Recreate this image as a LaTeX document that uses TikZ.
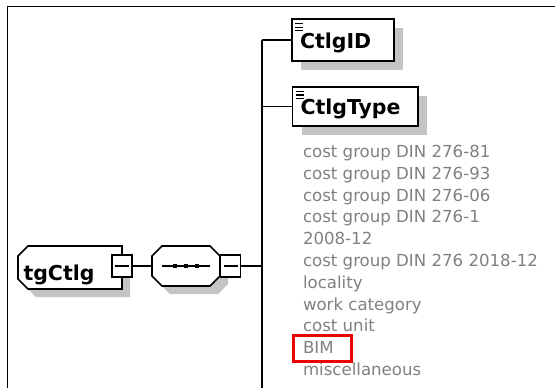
\documentclass[tikz,border=0pt]{standalone}
\usepackage{fontspec}
\setmainfont{DejaVu Sans}
\definecolor{enumgray}{RGB}{128,128,128}
\definecolor{shadowgray}{RGB}{196,196,196}
\definecolor{bimred}{RGB}{235,0,0}
\newcommand\mytgpath{([xshift=10pt]tg.north west) -- (tg.north east) -- (tg.south east) -- ([xshift=10pt]tg.south west) -- ([yshift=10pt]tg.south west) -- ([yshift=-10pt]tg.north west) -- cycle}
\newcommand\myseqpath{([xshift=10pt]seq.north west) -- ([xshift=-10pt]seq.north east) -- ([yshift=-10pt]seq.north east) -- ([yshift=10pt]seq.south east) -- ([xshift=-10pt]seq.south east) -- ([xshift=10pt]seq.south west) -- ([yshift=10pt]seq.south west) -- ([yshift=-10pt]seq.north west) -- cycle}
\begin{document}
\begin{tikzpicture}[x=1pt,y=-1pt,
  every node/.style={inner sep=0pt, outer sep=0pt},
  boxline/.style={draw=black, line width=1.6pt, fill=white},
  shadowfill/.style={fill=shadowgray, draw=none},
  placeholder/.style={rectangle, draw=none},
  minusbox/.style={boxline, rectangle, minimum width=20pt, minimum height=22pt,
    path picture={\draw[black, line width=1.2pt] ([xshift=3pt]path picture bounding box.west) -- ([xshift=-3pt]path picture bounding box.east);}},
  elembox/.style={boxline, rectangle,
    path picture={\foreach \dy in {4.5,8,11.5}{\draw[black, line width=1.2pt] ([xshift=3pt,yshift=-\dy pt]path picture bounding box.north west) -- ++(8pt,0);}}},
  eltext/.style={font=\bfseries\fontsize{20.5}{23}\selectfont, text=black},
  enumtext/.style={font=\fontsize{16.6}{20}\selectfont, text=enumgray, anchor=base west},
  conn/.style={draw=black, line width=1.4pt},
  frameline/.style={draw=black, line width=1.8pt}
]
\useasboundingbox (0,0) rectangle (555,388);
% frame
\coordinate (fr1) at (7.5,388);
\coordinate (fr2) at (7.5,6.5);
\coordinate (fr3) at (555,6.5);
\draw[frameline] (fr1) -- (fr2) -- (fr3);

% trunk
\coordinate (trunktop) at (262,40);
\coordinate (trunkbot) at (262,388);

% element boxes (shadows first)
\node[placeholder, minimum width=102pt, minimum height=41.5pt] (idshadow) at (352,49) {};
\fill[shadowfill] (idshadow.north west) rectangle (idshadow.south east);
\node[placeholder, minimum width=125.5pt, minimum height=39pt] (typeshadow) at (364.25,115.5) {};
\fill[shadowfill] (typeshadow.north west) rectangle (typeshadow.south east);
\node[elembox, minimum width=102pt, minimum height=41.5pt] (ctlgid) at (343,40) {};
\node[eltext, anchor=base west] (idtext) at (300,48) {CtlgID};
\node[elembox, minimum width=125.5pt, minimum height=39pt] (ctlgtype) at (355.25,106.5) {};
\node[eltext, anchor=base west] (typetext) at (300.5,114) {CtlgType};

% tgCtlg and sequence
\node[placeholder, minimum width=104pt, minimum height=43pt] (tg) at (70,267.5) {};
\node[placeholder, minimum width=68pt, minimum height=40pt] (seq) at (186,266) {};
\fill[shadowfill, transform canvas={shift={(8pt,-8pt)}}] \mytgpath;
\fill[shadowfill, transform canvas={shift={(8pt,-8pt)}}] \myseqpath;
\filldraw[boxline] \mytgpath;
\filldraw[boxline] \myseqpath;
\node[eltext, anchor=base west] (tgtext) at (23.5,280.5) {tgCtlg};
\coordinate (dotsl) at ([xshift=10pt]seq.west);
\coordinate (dotsr) at ([xshift=-10pt]seq.east);
\draw[black, line width=1.2pt] (dotsl) -- (dotsr);
\foreach \dx in {-11,0,11}{
  \fill[black] ([xshift=\dx pt]seq.center) +(-2.3,-2.3) rectangle +(2.3,2.3);
}
\node[minusbox] (tgminus) at (122,266) {};
\node[minusbox] (seqminus) at (230.5,266) {};

% connectors
\draw[conn] (tgminus.east) -- (seq.west);
\draw[conn] (seqminus.east) -- (seqminus.east -| trunktop);
\draw[conn] (trunktop) -- (trunkbot);
\draw[conn] (trunktop) -- (ctlgid.west);
\draw[conn] (ctlgtype.west -| trunktop) -- (ctlgtype.west);

% enumeration values
\node[enumtext] (e1) at (303,157.5) {cost group DIN 276-81};
\node[enumtext] (e2) at (303,179.3) {cost group DIN 276-93};
\node[enumtext] (e3) at (303,201.1) {cost group DIN 276-06};
\node[enumtext] (e4) at (303,222.9) {cost group DIN 276-1};
\node[enumtext] (e5) at (303,244.7) {2008-12};
\node[enumtext] (e6) at (303,266.5) {cost group DIN 276 2018-12};
\node[enumtext] (e7) at (303,288.3) {locality};
\node[enumtext] (e8) at (303,310.1) {work category};
\node[enumtext] (e9) at (303,331.9) {cost unit};
\node[enumtext] (bim) at (303,353.7) {BIM};
\node[enumtext] (e11) at (303,375.5) {miscellaneous};
\draw[bimred, line width=2.2pt] (293.5,335.5) rectangle (351.5,361.5);
\end{tikzpicture}
\end{document}
